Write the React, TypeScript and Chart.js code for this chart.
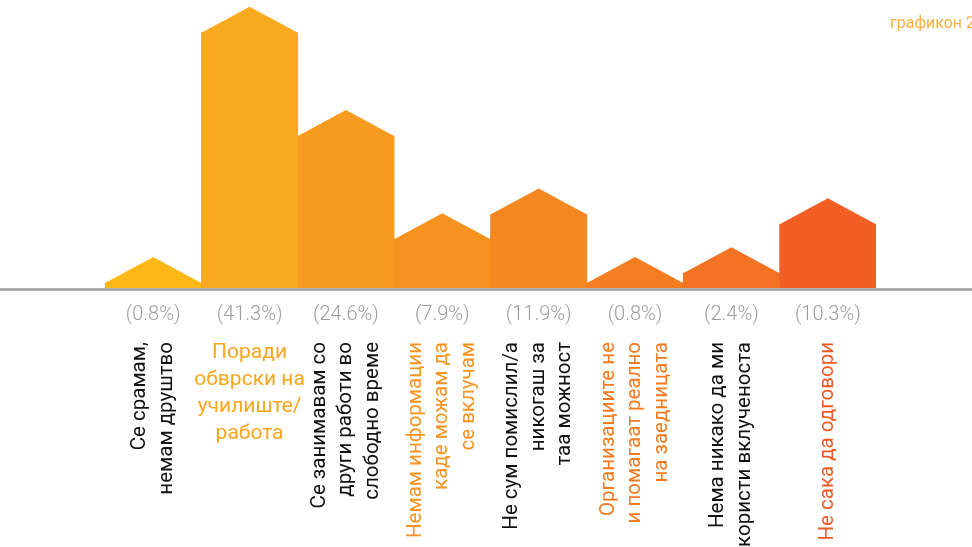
import React, { useEffect, useRef } from "react";
import { Chart, registerables } from "chart.js";

Chart.register(...registerables);

const categories: string[][] = [
  ["Се срамам,", "немам друштво"],
  ["Поради", "обврски на", "училиште/", "работа"],
  ["Се занимавам со", "други работи во", "слободно време"],
  ["Немам информации", "каде можам да", "се вклучам"],
  ["Не сум помислил/а", "никогаш за", "таа можност"],
  ["Организациите не", "и помагаат реално", "на заедницата"],
  ["Нема никако да ми", "користи вклученоста"],
  ["Не сака да одговори"],
];
const values = [0.8, 41.3, 24.6, 7.9, 11.9, 0.8, 2.4, 10.3];
const valueLabels = ["(0.8%)", "(41.3%)", "(24.6%)", "(7.9%)", "(11.9%)", "(0.8%)", "(2.4%)", "(10.3%)"];
const horizontalLabel = [false, true, false, false, false, false, false, false];
const barColors = ["#FBB817", "#F9AA1E", "#F79C20", "#F69320", "#F58720", "#F47D21", "#F37323", "#F15F25"];
const labelColors = ["#111111", "#F9A61D", "#111111", "#F7931E", "#111111", "#F47A20", "#111111", "#F15A24"];
const titleText = "графикон 2";

const ROOF = 26;

const housePlugin = {
  id: "house",
  afterDatasetsDraw(chart: any) {
    const ctx = chart.ctx;
    const meta = chart.getDatasetMeta(0);
    meta.data.forEach((bar: any, i: number) => {
      const { x, y, width } = bar.getProps(["x", "y", "width"], true);
      ctx.save();
      ctx.fillStyle = barColors[i];
      ctx.beginPath();
      ctx.moveTo(x - width / 2, y + 0.6);
      ctx.lineTo(x - width / 2, y);
      ctx.lineTo(x, y - ROOF);
      ctx.lineTo(x + width / 2, y);
      ctx.lineTo(x + width / 2, y + 0.6);
      ctx.closePath();
      ctx.fill();
      ctx.restore();
    });
  },
  afterDraw(chart: any) {
    const ctx = chart.ctx;
    const area = chart.chartArea;
    const xScale = chart.scales.x;
    ctx.save();
    // baseline
    ctx.strokeStyle = "#9B9B9B";
    ctx.lineWidth = 2.5;
    ctx.beginPath();
    ctx.moveTo(0, area.bottom + 1.5);
    ctx.lineTo(chart.width, area.bottom + 1.5);
    ctx.stroke();

    // percentage labels
    ctx.font = "300 20px Roboto";
    ctx.fillStyle = "#9C9C9C";
    ctx.textAlign = "center";
    ctx.textBaseline = "middle";
    valueLabels.forEach((t, i) => {
      ctx.fillText(t, xScale.getPixelForValue(i), area.bottom + 27);
    });

    // category labels
    categories.forEach((lines, i) => {
      const cx = xScale.getPixelForValue(i);
      ctx.fillStyle = labelColors[i];
      if (horizontalLabel[i]) {
        ctx.font = "21px Roboto";
        ctx.textAlign = "center";
        ctx.textBaseline = "alphabetic";
        lines.forEach((ln, j) => {
          ctx.fillText(ln, cx, area.bottom + 70 + j * 27);
        });
      } else {
        ctx.font = "20.5px Roboto";
        ctx.save();
        ctx.translate(cx, area.bottom + 54);
        ctx.rotate(-Math.PI / 2);
        ctx.textAlign = "right";
        ctx.textBaseline = "middle";
        const n = lines.length;
        lines.forEach((ln, j) => {
          ctx.fillText(ln, 0, (j - (n - 1) / 2) * 26.5);
        });
        ctx.restore();
      }
    });

    // title
    ctx.font = "16px Roboto";
    ctx.fillStyle = "#FBB040";
    ctx.textAlign = "left";
    ctx.textBaseline = "middle";
    ctx.fillText(titleText, 890, 24);
    ctx.restore();
  },
};

export default function App() {
  const ref = useRef<HTMLCanvasElement>(null);
  useEffect(() => {
    document.body.style.margin = "0";
    const chart = new Chart(ref.current!, {
      type: "bar",
      data: {
        labels: categories.map((c) => c.join(" ")),
        datasets: [
          {
            data: values,
            backgroundColor: barColors,
            borderWidth: 0,
            categoryPercentage: 1,
            barPercentage: 1,
          },
        ],
      },
      options: {
        animation: false,
        responsive: true,
        maintainAspectRatio: false,
        layout: { padding: { left: 105, right: 96, top: 10, bottom: 259 } },
        plugins: { legend: { display: false }, tooltip: { enabled: false } },
        scales: {
          x: { display: false },
          y: { display: false, min: 0, max: 45 },
        },
      },
      plugins: [housePlugin],
    });
    return () => chart.destroy();
  }, []);
  return (
    <div style={{ width: 972, height: 547, position: "relative" }}>
      <canvas ref={ref} style={{ display: "block" }} />
    </div>
  );
}
